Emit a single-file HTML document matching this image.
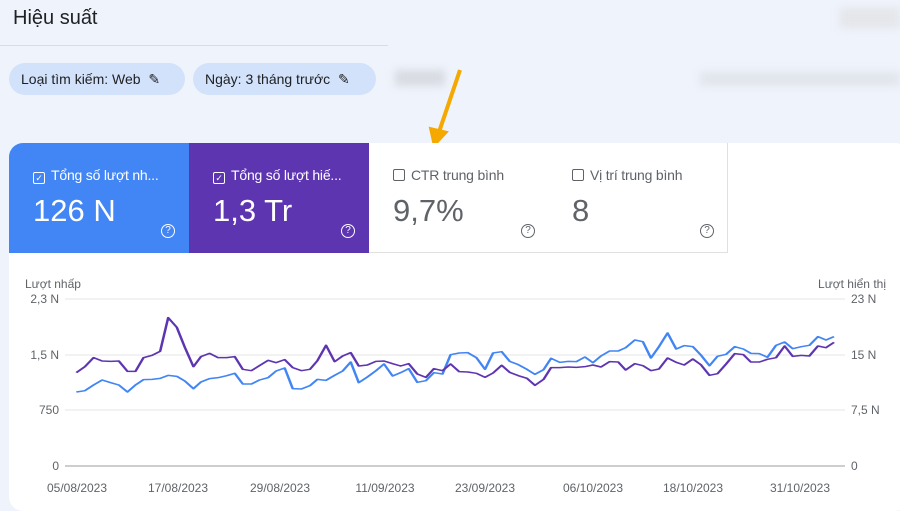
<!DOCTYPE html><html><head><meta charset="utf-8"><style>
body{margin:0;width:900px;height:511px;background:#eff3fb;font-family:"Liberation Sans",sans-serif;position:relative;overflow:hidden}
.a{position:absolute}
.chip{position:absolute;top:63px;height:32px;border-radius:16px;background:#d3e2fb;font-size:14px;color:#202124;line-height:32px;padding-left:12px;box-sizing:border-box}
.t{position:absolute;top:143px;width:180px;height:110px;box-sizing:border-box}
.lab{position:absolute;left:24px;top:24px;font-size:14px;white-space:nowrap;letter-spacing:-0.2px}
.val{position:absolute;left:24px;top:50px;font-size:31px}
.cb{display:inline-block;width:10px;height:10px;border:1.5px solid;border-radius:2px;vertical-align:-1px;margin-right:6px;font-size:9px;line-height:10px;text-align:center}
.q{position:absolute;left:152px;top:81px;width:12px;height:12px;border:1.5px solid;border-radius:50%;font-size:10px;line-height:12px;text-align:center}
</style></head><body>
<div class="a" style="left:13px;top:7px;font-size:20px;color:#202124">Hiệu suất</div>
<div class="a" style="left:0;top:45px;width:388px;height:1px;background:#dadce0"></div>
<div class="a" style="left:840px;top:8px;width:60px;height:20px;background:#e4e6ea;filter:blur(4px)"></div>
<div class="a" style="left:395px;top:70px;width:50px;height:16px;background:#d8dbe2;filter:blur(4px)"></div>
<div class="a" style="left:700px;top:72px;width:200px;height:14px;background:#e2e5ec;filter:blur(4px)"></div>
<div class="chip" style="left:9px;width:176px">Loại tìm kiếm: Web &nbsp;✎</div>
<div class="chip" style="left:193px;width:183px">Ngày: 3 tháng trước &nbsp;✎</div>
<svg class="a" style="left:0;top:0" width="900" height="511"><line x1="460" y1="70" x2="438" y2="135" stroke="#f5a900" stroke-width="4"/><path d="M430 128 L434 146 L447 132 Z" fill="#f5a900" stroke="#f5a900" stroke-width="2"/></svg>
<div class="a" style="left:9px;top:143px;width:900px;height:368px;background:#fff;border-radius:14px"></div>
<div class="t" style="left:9px;background:#4285f4;color:#fff;border-top-left-radius:14px"><div class="lab"><span class="cb">✓</span>Tổng số lượt nh...</div><div class="val">126 N</div><div class="q">?</div></div>
<div class="t" style="left:189px;background:#5e35b1;color:#fff"><div class="lab"><span class="cb">✓</span>Tổng số lượt hiế...</div><div class="val">1,3 Tr</div><div class="q">?</div></div>
<div class="t" style="left:369px;background:#fff;color:#5f6368;border-right:1px solid #e0e0e0;border-bottom:1px solid #e0e0e0"><div class="lab"><span class="cb"></span>CTR trung bình</div><div class="val">9,7%</div><div class="q">?</div></div>
<div class="t" style="left:548px;background:#fff;color:#5f6368;border-right:1px solid #e0e0e0;border-bottom:1px solid #e0e0e0"><div class="lab"><span class="cb"></span>Vị trí trung bình</div><div class="val">8</div><div class="q">?</div></div>
<svg class="a" style="left:0;top:0" width="900" height="511" font-family="Liberation Sans" font-size="12" fill="#5f6368">
<text x="25" y="288">Lượt nhấp</text><text x="886" y="288" text-anchor="end">Lượt hiển thị</text>
<g stroke="#e6e6e6"><line x1="65" x2="845" y1="299" y2="299"/><line x1="65" x2="845" y1="355" y2="355"/><line x1="65" x2="845" y1="410" y2="410"/></g>
<line x1="65" x2="845" y1="466" y2="466" stroke="#9e9e9e"/>
<g text-anchor="end"><text x="59" y="303">2,3 N</text><text x="59" y="359">1,5 N</text><text x="59" y="414">750</text><text x="59" y="470">0</text></g>
<text x="851" y="303">23 N</text><text x="851" y="359">15 N</text><text x="851" y="414">7,5 N</text><text x="851" y="470">0</text>
<g text-anchor="middle"><text x="77" y="492">05/08/2023</text><text x="178" y="492">17/08/2023</text><text x="280" y="492">29/08/2023</text><text x="385" y="492">11/09/2023</text><text x="485" y="492">23/09/2023</text><text x="593" y="492">06/10/2023</text><text x="693" y="492">18/10/2023</text><text x="800" y="492">31/10/2023</text></g>
<g transform="translate(0,270) scale(0.574,0.33333)" fill="none" stroke-width="4.5" stroke-linejoin="round">
<polyline stroke="#4285f4" points="133,366 148,362 163,345 178,330 193,338 207,345 222,366 236,345 250,329 265,328 279,325 293,316 308,319 322,333 337,356 350,336 365,326 380,323 395,317 409,310 423,342 438,342 452,330 467,323 481,303 496,294 510,356 525,357 540,347 553,328 568,331 583,316 597,303 611,276 625,338 640,321 655,302 669,282 684,318 698,308 712,296 727,337 742,332 756,308 771,312 785,254 800,249 815,248 830,263 845,298 859,249 874,245 888,274 903,284 918,298 932,313 947,299 960,265 975,277 990,274 1004,275 1019,261 1033,278 1047,258 1062,243 1077,243 1090,233 1106,210 1120,215 1134,264 1148,230 1163,189 1178,237 1192,227 1207,230 1221,255 1236,287 1250,259 1265,253 1280,230 1295,237 1308,250 1323,251 1337,262 1352,226 1367,216 1381,236 1396,230 1410,226 1425,200 1439,210 1453,200"/>
<polyline stroke="#5e35b1" points="133,308 148,290 163,263 178,273 193,274 207,273 222,304 236,304 250,263 265,256 279,244 293,143 308,172 322,232 337,290 350,260 365,250 380,263 395,263 409,260 423,298 438,302 452,287 467,271 481,278 496,269 510,293 525,302 540,298 553,272 568,226 583,275 597,258 611,248 625,288 640,285 655,274 669,273 684,281 698,288 712,281 727,312 742,322 756,296 771,302 785,282 800,305 815,306 830,310 845,322 859,309 874,286 888,307 903,317 918,325 932,346 947,328 960,293 975,293 990,291 1004,292 1019,290 1033,285 1047,291 1062,275 1077,276 1090,300 1106,281 1120,287 1134,302 1148,297 1163,264 1178,277 1192,285 1207,267 1221,284 1236,316 1250,311 1265,282 1280,251 1295,254 1308,276 1323,276 1337,268 1352,263 1367,228 1381,259 1396,256 1410,258 1425,228 1439,233 1453,217"/>
</g></svg>
</body></html>
